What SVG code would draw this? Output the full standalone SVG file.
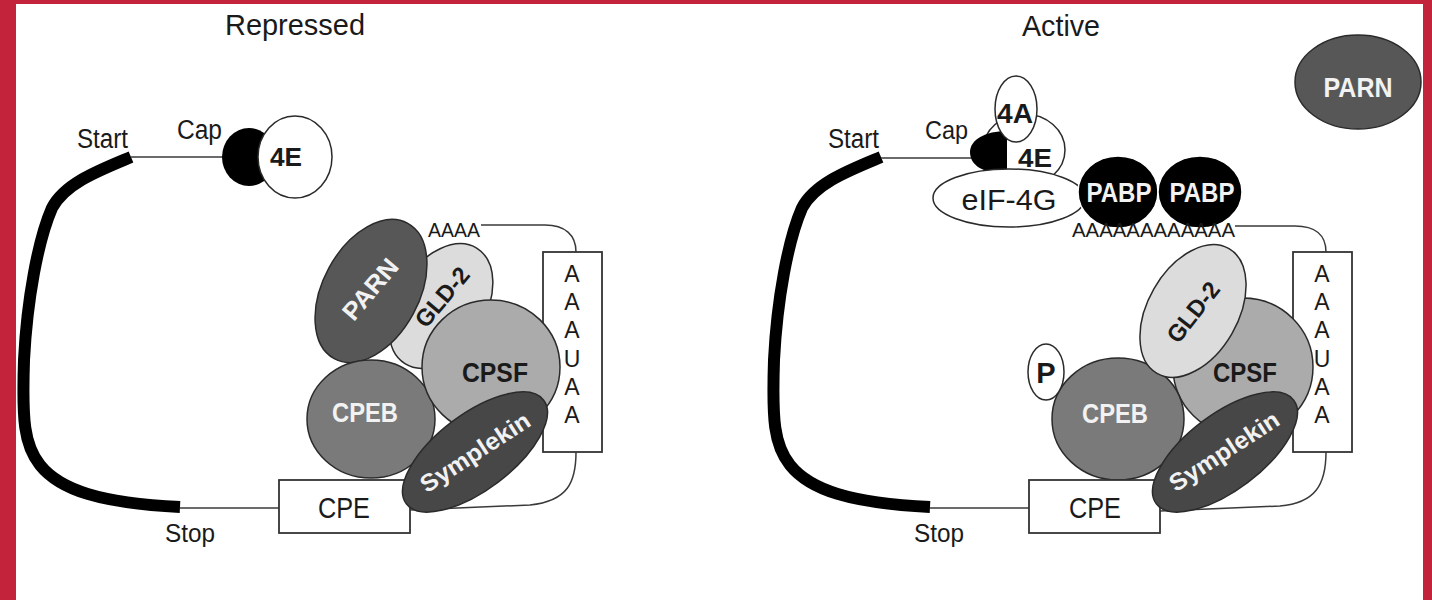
<svg xmlns="http://www.w3.org/2000/svg" width="1432" height="600" viewBox="0 0 1432 600">
<style>
text{font-family:"Liberation Sans",Arial,sans-serif;fill:#1a1a1a}
.b{font-weight:bold}
.w{fill:#f2f2f2}
.ol{stroke:#2a2a2a;stroke-width:1.5}
.thin{fill:none;stroke:#3a3a3a;stroke-width:1.5}
.thick{fill:none;stroke:#000;stroke-width:12;stroke-linecap:butt}
.box{fill:#fff;stroke:#333;stroke-width:1.8}
.parn{fill:#575757}
.gld{fill:#dcdcdc}
.cpeb{fill:#7a7a7a}
.cpsf{fill:#ababab}
.sym{fill:#474747}
</style>
<rect width="1432" height="600" fill="#fff"/>
<rect x="0" y="0" width="16" height="600" fill="#c3243b"/>
<rect x="0" y="0" width="1432" height="4" fill="#c3243b"/>
<rect x="1423" y="0" width="9" height="600" fill="#c3243b"/>

<g id="connectors">
  <path class="thick" d="M131,157 C100,170 65,183 52,208 C38,240 27,300 24,360 C22,420 24,445 40,465 C60,490 100,503 180,507"/>
  <path class="thin" d="M131,157 H230"/>
  <path class="thin" d="M180,508 H279"/>
  <path class="thin" d="M481,225 H545 C565,225 576,235 576,252"/>
  <path class="thin" d="M576,452 C576,482 568,501 530,505 L410,510"/>
  <path class="thick" d="M881,157 C850,170 815,183 802,208 C788,240 777,300 774,360 C772,420 774,445 790,465 C810,490 850,503 930,507"/>
  <path class="thin" d="M881,158 H975"/>
  <path class="thin" d="M930,508 H1029"/>
  <path class="thin" d="M1235,226 H1295 C1315,226 1326,235 1326,252"/>
  <path class="thin" d="M1326,452 C1326,485 1315,503 1280,506 L1160,511"/>
</g>

<g id="titles">
  <text x="295" y="35" font-size="30" text-anchor="middle" textLength="140" lengthAdjust="spacingAndGlyphs">Repressed</text>
  <text x="1061" y="36" font-size="30" text-anchor="middle" textLength="78" lengthAdjust="spacingAndGlyphs">Active</text>
</g>

<g id="left-labels">
  <text x="102.5" y="148" font-size="27" text-anchor="middle" textLength="51" lengthAdjust="spacingAndGlyphs">Start</text>
  <text x="199.5" y="139" font-size="27" text-anchor="middle" textLength="45" lengthAdjust="spacingAndGlyphs">Cap</text>
  <text x="190" y="542" font-size="26" text-anchor="middle" textLength="50" lengthAdjust="spacingAndGlyphs">Stop</text>
  <text x="454" y="237" font-size="21" text-anchor="middle" textLength="52" lengthAdjust="spacingAndGlyphs">AAAA</text>
</g>

<g id="left-cap">
  <ellipse cx="249" cy="157" rx="27" ry="29" fill="#000"/>
</g>
<g id="left-4E">
  <ellipse class="ol" cx="295" cy="157" rx="37" ry="41" fill="#fff"/>
  <text class="b" x="286" y="166" font-size="26" text-anchor="middle" textLength="32" lengthAdjust="spacingAndGlyphs">4E</text>
</g>

<g id="left-AAUAA">
  <rect class="box" x="543" y="252" width="59" height="200"/>
  <g font-size="23" text-anchor="middle">
    <text x="572" y="282">A</text><text x="572" y="310">A</text><text x="572" y="338">A</text>
    <text x="572" y="367">U</text><text x="572" y="395">A</text><text x="572" y="423">A</text>
  </g>
</g>
<g id="left-GLD2">
  <ellipse class="ol gld" cx="441" cy="306" rx="68" ry="44" transform="rotate(-58 441 306)"/>
  <text class="b" transform="translate(442,297) rotate(-50)" x="0" y="8.5" font-size="24" text-anchor="middle" textLength="70" lengthAdjust="spacingAndGlyphs">GLD-2</text>
</g>
<g id="left-PARN">
  <ellipse class="ol parn" cx="371" cy="291" rx="77" ry="48" transform="rotate(-61.5 371 291)"/>
  <text class="b w" transform="translate(370,289) rotate(-50)" x="0" y="9" font-size="25" text-anchor="middle" textLength="72" lengthAdjust="spacingAndGlyphs">PARN</text>
</g>
<g id="left-CPEB">
  <ellipse class="ol cpeb" cx="371" cy="419" rx="64" ry="59"/>
  <text class="b w" x="365" y="422" font-size="27" text-anchor="middle" textLength="66" lengthAdjust="spacingAndGlyphs">CPEB</text>
</g>
<g id="left-CPSF">
  <ellipse class="ol cpsf" cx="491" cy="367" rx="69" ry="67"/>
  <text class="b" x="495" y="382" font-size="27" text-anchor="middle" textLength="66" lengthAdjust="spacingAndGlyphs">CPSF</text>
</g>
<g id="left-CPE">
  <rect class="box" x="279" y="480" width="131" height="53"/>
  <text x="344" y="518" font-size="29" text-anchor="middle" textLength="52" lengthAdjust="spacingAndGlyphs">CPE</text>
</g>
<g id="left-Symplekin">
  <ellipse class="ol sym" cx="475" cy="452" rx="86" ry="38" transform="rotate(-37 475 452)"/>
  <text class="b w" transform="translate(475,452) rotate(-33)" x="0" y="8.5" font-size="24" text-anchor="middle" textLength="126" lengthAdjust="spacingAndGlyphs">Symplekin</text>
</g>

<g id="right-labels">
  <text x="853.5" y="148" font-size="27" text-anchor="middle" textLength="51" lengthAdjust="spacingAndGlyphs">Start</text>
  <text x="946.5" y="139" font-size="26" text-anchor="middle" textLength="43" lengthAdjust="spacingAndGlyphs">Cap</text>
  <text x="939" y="542" font-size="26" text-anchor="middle" textLength="50" lengthAdjust="spacingAndGlyphs">Stop</text>
</g>

<g id="right-PARN">
  <ellipse class="ol parn" cx="1358" cy="82" rx="63" ry="47"/>
  <text class="b w" x="1358" y="97" font-size="28" text-anchor="middle" textLength="69" lengthAdjust="spacingAndGlyphs">PARN</text>
</g>

<g id="right-4E">
  <ellipse class="ol" cx="1024" cy="150" rx="41" ry="36" fill="#fff"/>
  <text class="b" x="1035" y="167" font-size="25" text-anchor="middle" textLength="34" lengthAdjust="spacingAndGlyphs">4E</text>
</g>
<g id="right-cap">
  <path d="M1007,131 C985,131 970,140 970,152 C970,164 981,172 996,172 L1007,172 Z" fill="#000"/>
</g>
<g id="right-4A">
  <ellipse class="ol" cx="1016" cy="109" rx="21" ry="33" fill="#fff"/>
  <text class="b" x="1015" y="123" font-size="28" text-anchor="middle" textLength="36" lengthAdjust="spacingAndGlyphs">4A</text>
</g>
<g id="right-eIF4G">
  <ellipse class="ol" cx="1009" cy="198" rx="76" ry="29" fill="#fff"/>
  <text x="1009" y="210" font-size="30" text-anchor="middle" textLength="95" lengthAdjust="spacingAndGlyphs">eIF-4G</text>
</g>
<g id="right-PABP1">
  <ellipse cx="1118" cy="192" rx="40" ry="36" fill="#000" stroke="#fff" stroke-width="1.5"/>
  <text class="b w" x="1119" y="202" font-size="27" text-anchor="middle" textLength="65" lengthAdjust="spacingAndGlyphs">PABP</text>
</g>
<g id="right-PABP2">
  <ellipse cx="1200" cy="192" rx="42" ry="36" fill="#000" stroke="#fff" stroke-width="1.5"/>
  <text class="b w" x="1202" y="202" font-size="27" text-anchor="middle" textLength="65" lengthAdjust="spacingAndGlyphs">PABP</text>
</g>
<g id="right-polyA">
  <text x="1153.5" y="237" font-size="21" text-anchor="middle" textLength="163" lengthAdjust="spacingAndGlyphs" fill="#333">AAAAAAAAAAAA</text>
</g>

<g id="right-AAUAA">
  <rect class="box" x="1293" y="252" width="59" height="200"/>
  <g font-size="23" text-anchor="middle">
    <text x="1322" y="282">A</text><text x="1322" y="310">A</text><text x="1322" y="338">A</text>
    <text x="1322" y="367">U</text><text x="1322" y="395">A</text><text x="1322" y="423">A</text>
  </g>
</g>
<g id="right-CPSF">
  <ellipse class="ol cpsf" cx="1243" cy="367" rx="70" ry="69"/>
  <text class="b" x="1245" y="382" font-size="27" text-anchor="middle" textLength="64" lengthAdjust="spacingAndGlyphs">CPSF</text>
</g>
<g id="right-CPEB">
  <ellipse class="ol cpeb" cx="1118" cy="419" rx="66" ry="61"/>
  <text class="b w" x="1115" y="423" font-size="27" text-anchor="middle" textLength="66" lengthAdjust="spacingAndGlyphs">CPEB</text>
</g>
<g id="right-GLD2">
  <ellipse class="ol gld" cx="1193" cy="311" rx="72" ry="45" transform="rotate(-60 1193 311)"/>
  <text class="b" transform="translate(1193,312) rotate(-52)" x="0" y="8.5" font-size="24" text-anchor="middle" textLength="70" lengthAdjust="spacingAndGlyphs">GLD-2</text>
</g>
<g id="right-P">
  <ellipse class="ol" cx="1046" cy="372" rx="18" ry="28" fill="#fff"/>
  <text class="b" x="1046" y="383" font-size="29" text-anchor="middle">P</text>
</g>
<g id="right-CPE">
  <rect class="box" x="1029" y="480" width="131" height="53"/>
  <text x="1095" y="518" font-size="29" text-anchor="middle" textLength="52" lengthAdjust="spacingAndGlyphs">CPE</text>
</g>
<g id="right-Symplekin">
  <ellipse class="ol sym" cx="1225" cy="452" rx="86" ry="38" transform="rotate(-37 1225 452)"/>
  <text class="b w" transform="translate(1224,451) rotate(-33)" x="0" y="8.5" font-size="24" text-anchor="middle" textLength="126" lengthAdjust="spacingAndGlyphs">Symplekin</text>
</g>
</svg>
